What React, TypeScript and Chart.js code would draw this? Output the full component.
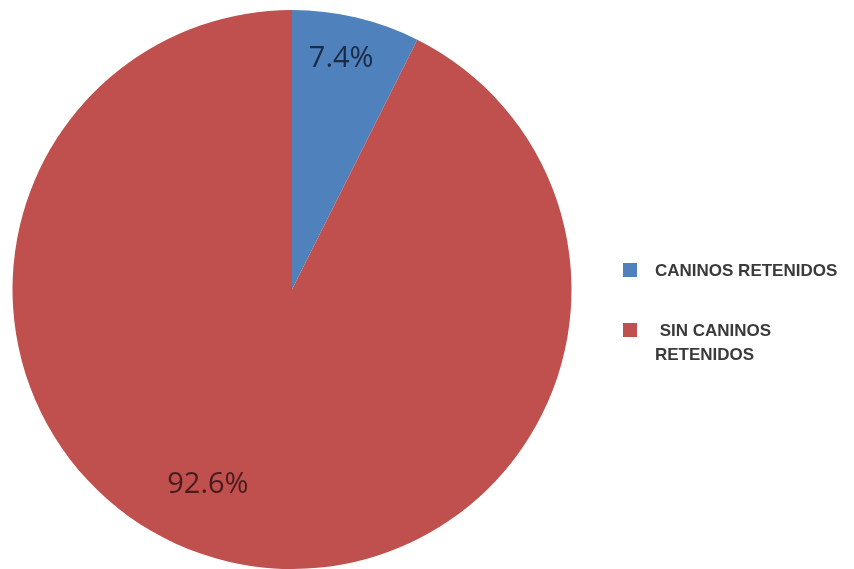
import React, { useEffect, useRef } from "react";
import { Chart, registerables } from "chart.js";

Chart.register(...registerables);

const categories = ["CANINOS RETENIDOS", "SIN CANINOS RETENIDOS"];
const legendLines = [["CANINOS RETENIDOS"], [" SIN CANINOS", "RETENIDOS"]];
const values = [7.4, 92.6];
const valueLabels = ["7.4%", "92.6%"];
const colors = ["#4F81BD", "#C0504D"];
const labelColors = ["#1b2a45", "#4a1b1d"];

// label placement relative to slice middle: [angle offset (deg), radius fraction]
const labelPlacement = [
  [-1.3, 0.845],
  [10, 0.76],
];

const labelPlugin = {
  id: "sliceLabels",
  afterDatasetsDraw(chart: any) {
    const ctx = chart.ctx;
    const meta = chart.getDatasetMeta(0);
    ctx.save();
    ctx.font = '29px "Open Sans", sans-serif';
    ctx.textAlign = "center";
    ctx.textBaseline = "middle";
    meta.data.forEach((arc: any, i: number) => {
      const p = arc.getProps(["x", "y", "startAngle", "endAngle", "outerRadius"], true);
      const mid = (p.startAngle + p.endAngle) / 2 + (labelPlacement[i][0] * Math.PI) / 180;
      const r = p.outerRadius * labelPlacement[i][1];
      ctx.fillStyle = labelColors[i];
      ctx.fillText(valueLabels[i], p.x + Math.cos(mid) * r, p.y + Math.sin(mid) * r);
    });
    ctx.restore();
  },
};

const legendPlugin = {
  id: "sideLegend",
  afterDraw(chart: any) {
    const ctx = chart.ctx;
    ctx.save();
    ctx.font = 'bold 17px "Liberation Sans", Arial, sans-serif';
    ctx.textBaseline = "middle";
    const boxX = 623;
    const tops = [270, 330];
    const textXs = [655, 655];
    legendLines.forEach((lines, i) => {
      ctx.fillStyle = colors[i];
      ctx.fillRect(boxX, tops[i] - 7, 14, 14);
      ctx.fillStyle = "#3a3a3a";
      lines.forEach((t, j) => {
        ctx.fillText(t, textXs[i], tops[i] + 1 + j * 24);
      });
    });
    ctx.restore();
  },
};

export default function App() {
  const ref = useRef<HTMLCanvasElement | null>(null);
  useEffect(() => {
    if (!ref.current) return;
    const chart = new Chart(ref.current, {
      type: "pie",
      data: {
        labels: categories,
        datasets: [
          {
            data: values,
            backgroundColor: colors,
            borderWidth: 0,
          },
        ],
      },
      options: {
        responsive: false,
        animation: false,
        layout: { padding: { left: 12, right: 282, top: 10, bottom: 0 } },
        plugins: {
          legend: { display: false },
          tooltip: { enabled: false },
        },
      },
      plugins: [labelPlugin, legendPlugin],
    });
    return () => chart.destroy();
  }, []);
  return (
    <div style={{ position: "fixed", left: 0, top: 0, width: 854, height: 569, background: "#fff" }}>
      <canvas ref={ref} width={854} height={569} style={{ display: "block" }} />
    </div>
  );
}
